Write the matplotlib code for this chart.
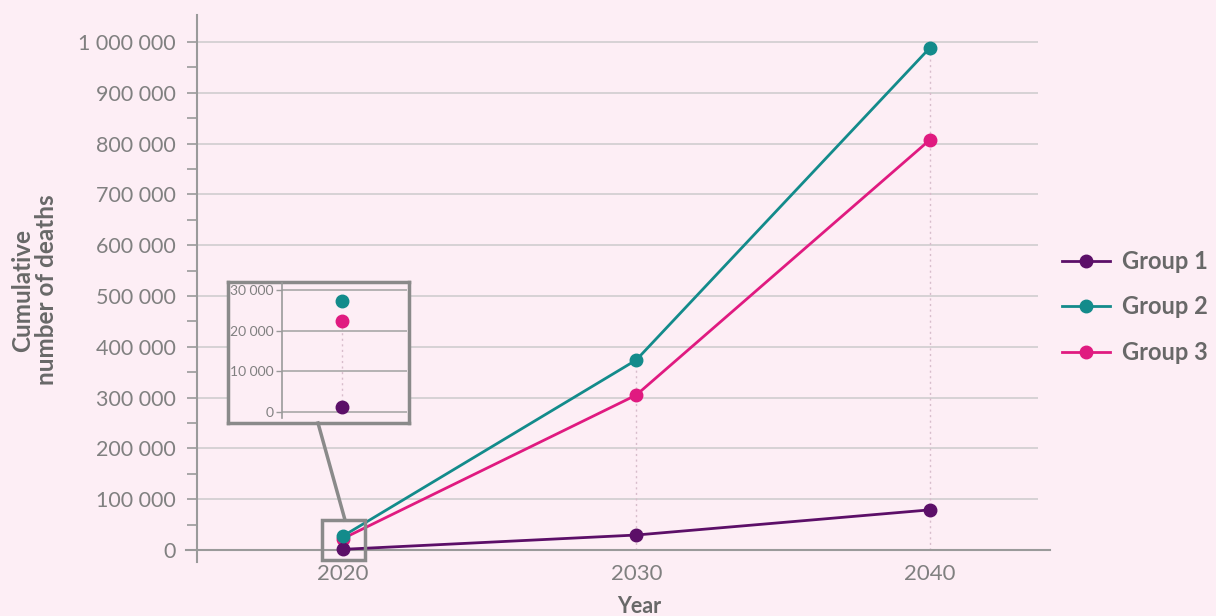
import matplotlib.pyplot as plt
from matplotlib.lines import Line2D
from matplotlib.patches import Rectangle

years = [2020, 2030, 2040]
group1 = [1300, 29500, 79000]
group2 = [27300, 374000, 988000]
group3 = [22400, 305000, 807000]
series_names = ['Group 1', 'Group 2', 'Group 3']
series_colors = ['#5c0f68', '#138b8b', '#e01a80']
y_ticks = list(range(0, 1000001, 100000))
inset_ticks = [0, 10000, 20000, 30000]

BG = '#fdeef5'
GRID = '#d4d0d2'
SPINE = '#9a9a9a'
TXT = '#808080'
BOLD_TXT = '#686868'
DOT = '#d8bccb'

plt.rcParams['font.family'] = ['Lato', 'DejaVu Sans']

W, H = 1216, 616
fig = plt.figure(figsize=(W / 100, H / 100), dpi=100, facecolor=BG)


def px_rect(x0, y0, x1, y1):
    # pixel box (top-left origin) -> figure fraction rect
    return [x0 / W, 1 - y1 / H, (x1 - x0) / W, (y1 - y0) / H]


def fmt(v):
    return f'{v:,}'.replace(',', ' ')


# main axes
ax = fig.add_axes(px_rect(197, 15, 1050, 562))
ax.set_facecolor('none')
ax.set_xlim(2015.03, 2044.1)
ax.set_ylim(-23600, 1053000)

for s in ['top', 'right']:
    ax.spines[s].set_visible(False)
ax.spines['left'].set_color(SPINE)
ax.spines['left'].set_linewidth(1.5)
ax.spines['bottom'].set_position(('data', 0))
ax.spines['bottom'].set_color(SPINE)
ax.spines['bottom'].set_linewidth(1.5)
ax.spines['bottom'].set_bounds(2014.65, 2044.1)

ax.set_yticks(y_ticks)
ax.set_yticklabels([fmt(v) for v in y_ticks])
ax.set_yticks(range(50000, 1000000, 100000), minor=True)
ax.tick_params(axis='y', which='both', length=7.5, width=1.2, color=SPINE,
               pad=8, labelsize=15.5, labelcolor=TXT)
ax.set_xticks(years)
ax.set_xticklabels([str(y) for y in years])
ax.tick_params(axis='x', length=0, pad=10, labelsize=16, labelcolor=TXT)

ax.hlines(y_ticks[1:], 2015.03, 2043.7, color=GRID, lw=1.3, zorder=0)

# dotted drop lines at each decade
ax.vlines(years[1:], 0, group2[1:], color=DOT, lw=1, linestyles=(0, (1.5, 2.5)), zorder=1)

all_series = [group1, group2, group3]
for vals, col in zip(all_series, series_colors):
    ax.plot(years, vals, color=col, lw=2, zorder=3)
for vals, col in zip([group3, group1, group2], [series_colors[2], series_colors[0], series_colors[1]]):
    ax.plot(years, vals, ls='none', marker='o', ms=9, mfc=col, mec=col, zorder=4)

ax.set_xlabel('Year', fontsize=15.5, fontweight='bold', color=BOLD_TXT)
ax.xaxis.set_label_coords(0.518, -0.063)
ax.set_ylabel('Cumulative\nnumber of deaths', fontsize=17.5, fontweight='bold',
              color=BOLD_TXT, linespacing=1.05)
ax.yaxis.set_label_coords(-0.163, 0.497)

# zoom marker around 2020
ax.add_patch(Rectangle((2019.28, -19700), 1.47, 78700, fill=False,
                       ec='#8a8a8a', lw=2.5, zorder=5, clip_on=False))
fig.add_artist(Line2D([318 / W, 345 / W], [1 - 423 / H, 1 - 520 / H],
                      color='#8a8a8a', lw=2.5))

# inset frame
box = fig.add_axes(px_rect(228, 282, 409, 423))
box.set_facecolor(BG)
box.set_xticks([])
box.set_yticks([])
for s in box.spines.values():
    s.set_color('#8a8a8a')
    s.set_linewidth(2.5)

ins = fig.add_axes(px_rect(282, 283, 407, 418))
ins.set_facecolor('none')
ins.set_xlim(0, 1)
ins.set_ylim(-1475, 31720)
for s in ['top', 'right', 'bottom']:
    ins.spines[s].set_visible(False)
ins.spines['left'].set_color(SPINE)
ins.spines['left'].set_linewidth(1.2)
ins.set_xticks([])
ins.set_yticks(inset_ticks)
ins.set_yticklabels([fmt(v) for v in inset_ticks])
ins.tick_params(axis='y', length=4, width=1, color=SPINE, pad=2,
                labelsize=10, labelcolor=TXT)
ins.hlines(inset_ticks, 0, 1, color='#a8a8a8', lw=1.2, zorder=0)
ins.vlines(0.48, group1[0], group3[0], color=DOT, lw=1, linestyles=(0, (1.5, 2.5)))
for vals, col in zip(all_series, series_colors):
    ins.plot([0.48], [vals[0]], marker='o', ms=9, mfc=col, mec=col, zorder=3)

handles = [Line2D([], [], color=c, lw=2, marker='o', ms=9, mfc=c, mec=c)
           for c in series_colors]
leg = fig.legend(handles, series_names, loc='center left',
                 bbox_to_anchor=(1062 / W, 1 - 307 / H), frameon=False,
                 borderpad=0, borderaxespad=0,
                 handlelength=2.05, handletextpad=0.5, labelspacing=0.95,
                 prop={'size': 17, 'weight': 'bold'})
for t in leg.get_texts():
    t.set_color(BOLD_TXT)

fig.savefig('out.png', dpi=100, facecolor=BG)
